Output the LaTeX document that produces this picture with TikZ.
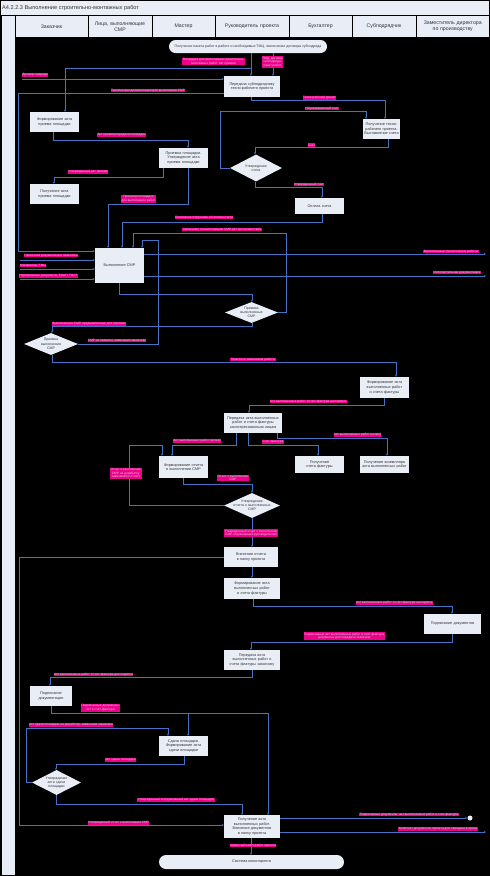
\documentclass[tikz,border=0pt]{standalone}
\usepackage{fontspec}
\setmainfont{Liberation Sans}
\usetikzlibrary{shapes.geometric,shapes.misc,arrows.meta}
\definecolor{boxfill}{HTML}{E9EEF6}
\definecolor{flowc}{HTML}{4472C4}
\definecolor{txt}{HTML}{333333}
\definecolor{lbltxt}{HTML}{D0D0D0}
\begin{document}
\begin{tikzpicture}[x=1pt,y=-1pt,
  box/.style={draw=none, fill=boxfill, text=txt, font=\fontsize{3.8}{4.6}\selectfont, align=center, inner sep=1pt},
  sz/.style n args={3}{minimum width=#1pt, text width=#2pt, minimum height=#3pt},
  dia/.style={diamond, draw=none, fill=boxfill, inner sep=0pt},
  dt/.style={text=txt, font=\fontsize{3.5}{4.2}\selectfont, align=center, text width=#1pt, inner sep=0pt},
  pill/.style={rounded rectangle, draw=none, fill=boxfill, text=txt, font=\fontsize{3.5}{4.2}\selectfont, inner sep=1pt},
  lbl/.style={fill=magenta, text=lbltxt, font=\fontsize{3.2}{3.7}\selectfont, inner sep=0.4pt, align=center},
  hdr/.style={fill=boxfill, text=txt, font=\fontsize{5.2}{6}\selectfont, align=center, inner sep=0pt},
  flow/.style={draw=flowc, line width=0.6pt, -{Stealth[length=2.2pt,width=2pt]}}
]
\useasboundingbox (0,0) rectangle (490,876);
\fill[black] (0,0) rectangle (490,876);
% title and header
\fill[boxfill] (1,1) rectangle (489,15);
\node[anchor=west, text=txt, font=\fontsize{5.6}{6}\selectfont, inner sep=0pt] (title) at (2,8) {А4.2.2.3 Выполнение строительно-монтажных работ};
\fill[boxfill] (2,16) rectangle (15,875);
\node[hdr, minimum width=72pt, minimum height=21pt, text width=70pt] (h1) at (51.5,26.5) {Заказчик};
\node[hdr, minimum width=63pt, minimum height=21pt, text width=61pt] (h2) at (120,26.5) {Лица, выполняющие\\СМР};
\node[hdr, minimum width=62pt, minimum height=21pt, text width=60pt] (h3) at (183.5,26.5) {Мастер};
\node[hdr, minimum width=73pt, minimum height=21pt, text width=71pt] (h4) at (252,26.5) {Руководитель проекта};
\node[hdr, minimum width=62pt, minimum height=21pt, text width=60pt] (h5) at (320.5,26.5) {Бухгалтер};
\node[hdr, minimum width=63pt, minimum height=21pt, text width=61pt] (h6) at (384,26.5) {Субподрядчик};
\node[hdr, minimum width=72.5pt, minimum height=21pt, text width=70pt] (h7) at (452.75,26.5) {Заместитель директора\\по производству};

% nodes
\node[pill, minimum width=160pt, minimum height=13pt] (start) at (248,46.5) {Получение пакета работ в работе и необходимых ТМЦ, заключение договора субподряда};
\node[box, sz={56}{53}{21}] (n3) at (252,86.5) {Передача субподрядчику техно-рабочего проекта};
\node[box, sz={49}{46}{20}] (n4) at (54.5,122) {Формирование акта приема площадки};
\node[box, sz={49}{46}{20}] (n5) at (183.5,158) {Приемка площадки. Утверждение акта приема площадки};
\node[box, sz={49}{46}{20}] (n6) at (54.5,194) {Получение акта приема площадки};
\node[box, sz={49}{46}{35}] (n7) at (119.5,265.5) {Выполнение СМР};
\node[box, sz={37}{35}{20}] (n8) at (381.5,129) {Получение техно-рабочего проекта. Выставление счета};
\node[dia, minimum width=52pt, minimum height=27pt, label={[dt=26]center:Утверждение\\счета}] (n9) at (256,168) {};
\node[box, sz={49}{46}{16}] (n10) at (319.5,206) {Оплата счета};
\node[dia, minimum width=53pt, minimum height=21pt, label={[dt=26]center:Приемка\\выполненных\\СМР}] (n11) at (251.5,312.5) {};
\node[dia, minimum width=54pt, minimum height=22pt, label={[dt=24]center:Приемка\\выполнения\\СМР}] (n12) at (51,344) {};
\node[box, sz={49}{46}{21}] (n13) at (384.5,387.5) {Формирование акта выполненных работ и счета фактуры};
\node[box, sz={58}{55}{20}] (n14) at (253,423) {Передача акта выполненных работ и счета фактуры заинтересованным лицам};
\node[box, sz={49}{46}{17}] (n15) at (319.5,464.5) {Получение счета фактуры};
\node[box, sz={49}{47}{17}] (n16) at (384.5,464.5) {Получение экземпляра акта выполненных работ};
\node[box, sz={49}{46}{22}] (n17) at (183.5,467) {Формирование отчета о выполнении СМР};
\node[dia, minimum width=56pt, minimum height=25pt, label={[dt=44]center:Утверждение\\отчета о выполненных\\СМР}] (n18) at (252,505.5) {};
\node[box, sz={54}{50}{20}] (n19) at (251,557) {Внесение отчета в папку проекта};
\node[box, sz={56}{53}{21}] (n20) at (252,588.5) {Формирование акта выполненных работ и счета фактуры};
\node[box, sz={57}{54}{20}] (n21) at (452.5,624) {Подписание документов};
\node[box, sz={56}{53}{20}] (n22) at (252,660) {Передача акта выполненных работ и счета фактуры заказчику};
\node[box, sz={42}{39}{20}] (n23) at (51,696) {Подписание документации};
\node[box, sz={49}{46}{20}] (n24) at (183.5,746) {Сдача площадки. Формирование акта сдачи площадки};
\node[dia, minimum width=49pt, minimum height=25pt, label={[dt=26]center:Утверждение\\акта сдачи\\площадки}] (n25) at (56.5,782.5) {};
\node[box, sz={56}{53}{23}] (n26) at (252,826.5) {Получение акта выполненных работ. Внесение документов в папку проекта};
\node[pill, minimum width=187pt, minimum height=14pt, font=\fontsize{3.8}{4.6}\selectfont] (end) at (251.5,862) {Система мониторинга};
\node[circle, fill=boxfill, minimum size=5pt, inner sep=0pt] (offc) at (470,818) {};

% free ends
\coordinate (in1) at (22,79);
\coordinate (in2) at (20,260);
\coordinate (in3) at (20,269);
\coordinate (in4) at (20,279);
\coordinate (out1) at (486,254);
\coordinate (out2) at (486,276);
\coordinate (out3) at (486,832);

% connectors
\draw[flow] (start.south -| 251,0) -- (n3.north -| 251,0);
\draw[flow] (start.south -| 251,0) |- (65,68) -- (n4.north -| 65,0);
\draw[flow] (start.south -| 273,0) -- (n3.north -| 273,0);
\draw[flow] (in1) -- (n3.west |- in1);
\draw[flow] (n3.west |- 0,93) -| (18,251) -- (n7.west |- 0,251);
\draw[flow] (n4.south -| 53,0) |- (188,140) -- (n5.north -| 188,0);
\draw[flow] (n5.south -| 163,0) |- (54,177) -- (n6.north -| 54,0);
\draw[flow] (n5.south -| 188,0) |- (108,204) -- (n7.north -| 108,0);
\draw[flow] (n3.south -| 251,0) |- (385,100) -- (n8.north -| 385,0);
\draw[flow] (n9.west) -| (220,111) -| (n8.north -| 366,0);
\draw[flow] (n8.south -| 388,0) |- (255,147) -- (n9.north -| 255,0);
\draw[flow] (n9.south -| 255,0) |- (322,187) -- (n10.north -| 322,0);
\draw[flow] (n10.south -| 322,0) |- (122,222) -- (n7.north -| 122,0);
\draw[flow] (n11.east) -| (286,233) -| (n7.north -| 133,0);
\draw[flow] (n12.east) -| (158,240) -| (n7.north -| 142,0);
\draw[flow] (in2) -- (n7.west |- in2);
\draw[flow] (in3) -- (n7.west |- in3);
\draw[flow] (in4) -- (n7.west |- in4);
\draw[flow] (n7.east |- out1) -- (out1);
\draw[flow] (n7.east |- out2) -- (out2);
\draw[flow] (n7.south -| 119,0) |- (252,294) -- (n11.north -| 252,0);
\draw[flow] (n11.south -| 252,0) |- (52,326) -- (n12.north -| 52,0);
\draw[flow] (n12.south -| 52,0) |- (396,362) -- (n13.north -| 396,0);
\draw[flow] (n13.south -| 384,0) |- (249,405) -- (n14.north -| 249,0);
\draw[flow] (n14.south -| 277,0) |- (387,438) -- (n16.north -| 387,0);
\draw[flow] (n14.south -| 248,0) |- (318,445) -- (n15.north -| 318,0);
\draw[flow] (n14.south -| 236,0) |- (172,445) -- (n17.north -| 172,0);
\draw[flow] (n18.west) -| (129,445) -| (n17.north -| 162,0);
\draw[flow] (n17.south -| 183,0) |- (252,484) -- (n18.north -| 252,0);
\draw[flow] (n18.south -| 252,0) -- (n19.north -| 252,0);
\draw[flow] (n19.west) -| (19,825) -- (n26.west |- 0,825);
\draw[flow] (n19.south -| 252,0) -- (n20.north -| 252,0);
\draw[flow] (n20.south -| 253,0) |- (452,606) -- (n21.north -| 452,0);
\draw[flow] (n21.south -| 452,0) |- (251,642) -- (n22.north -| 251,0);
\draw[flow] (n22.south -| 252,0) |- (50,677) -- (n23.north -| 50,0);
\draw[flow] (n23.south -| 51,0) |- (188,713) -- (n24.north -| 188,0);
\draw[flow] (n23.south -| 51,0) |- (268,713) -- (n26.north -| 268,0);
\draw[flow] (n25.west) -| (26,728) -| (n24.north -| 168,0);
\draw[flow] (n24.south -| 184,0) |- (56,764) -- (n25.north -| 56,0);
\draw[flow] (n25.south -| 56,0) |- (242,804) -- (n26.north -| 242,0);
\draw[flow] (n26.east |- 0,818) -- (offc.west);
\draw[flow] (n26.east |- out3) -- (out3);
\draw[flow] (n26.south -| 251,0) -- (end.north -| 251,0);

% labels
\node[lbl] (l1) at (213.5,61.5) {Площадка для выполнения строительно-\\монтажных работ, акт приема};
\node[lbl] (l2) at (272.5,62) {ТМЦ, договор\\субподряда,\\пакет работ};
\node[lbl] (l3) at (35,75) {Договор подряда};
\node[lbl] (l4) at (148,90.5) {Техническая документация для выполнения СМР};
\node[lbl] (l5) at (121.5,135) {Акт приема-передачи площадки};
\node[lbl] (l6) at (88,172) {Утвержденный акт приема};
\node[lbl] (l7) at (138.5,199) {Принятая площадка\\для выполнения работ};
\node[lbl] (l8) at (319.5,98) {Техно-рабочий проект};
\node[lbl] (l9) at (322,108.5) {Неутвержденный счет};
\node[lbl] (l10) at (311.5,145) {Счет};
\node[lbl] (l11) at (309,184.5) {Утвержденный счет};
\node[lbl] (l12) at (204,217.5) {Платежное поручение об оплате счета};
\node[lbl] (l13) at (222,229.5) {Замечания по выполнению СМР, акт несоответствия};
\node[lbl] (l14) at (117,340.5) {СМР не приняты, замечания заказчика};
\node[lbl] (l15) at (51,255.5) {Проектная документация заказчика};
\node[lbl] (l16) at (33,265.5) {Материалы, ТМЦ};
\node[lbl] (l17) at (48.5,276) {Нормативные документы, СНиП, ГОСТ};
\node[lbl] (l18) at (451,251.5) {Выполненные строительные работы};
\node[lbl] (l19) at (457,272.5) {Исполнительная документация};
\node[lbl] (l20) at (89,324) {Выполненные СМР, предъявленные для приемки};
\node[lbl] (l21) at (253,359.5) {Принятые заказчиком работы};
\node[lbl] (l22) at (308.5,401.5) {Акт выполненных работ и счет-фактура на подпись};
\node[lbl] (l23) at (357.5,435) {Акт выполненных работ (копия)};
\node[lbl] (l24) at (273,442) {Счет-фактура};
\node[lbl] (l25) at (197,441) {Акт выполненных работ (копия)};
\node[lbl] (l26) at (126,473.5) {Отчет о выполнении\\СМР на доработку,\\замечания к отчету};
\node[lbl] (l27) at (233,478) {Отчет о выполнении\\СМР};
\node[lbl] (l28) at (251,533) {Утвержденный отчет о выполнении\\СМР, подписанный руководителем};
\node[lbl] (l29) at (394.5,603) {Акт выполненных работ и счет-фактура на подпись};
\node[lbl] (l30) at (344.5,636) {Подписанные акт выполненных работ и счет-фактура,\\документы для передачи заказчику};
\node[lbl] (l31) at (93.5,674.5) {Акт выполненных работ и счет-фактура для подписи};
\node[lbl] (l32) at (100.5,708) {Подписанные документы,\\акт и счет-фактура};
\node[lbl] (l33) at (71,725) {Акт сдачи площадки на доработку, замечания заказчика};
\node[lbl] (l34) at (120.5,760) {Акт сдачи площадки};
\node[lbl] (l35) at (176,800) {Утвержденный и подписанный акт сдачи площадки};
\node[lbl] (l36) at (118.5,823) {Утвержденный отчет о выполнении СМР};
\node[lbl] (l37) at (409,814.5) {Подписанные документы: акт выполненных работ и счет-фактура};
\node[lbl] (l38) at (438,829) {Комплект документов проекта для передачи в архив};
\node[lbl] (l39) at (253,845.5) {Закрытый пакет работ проекта};
\end{tikzpicture}
\end{document}
